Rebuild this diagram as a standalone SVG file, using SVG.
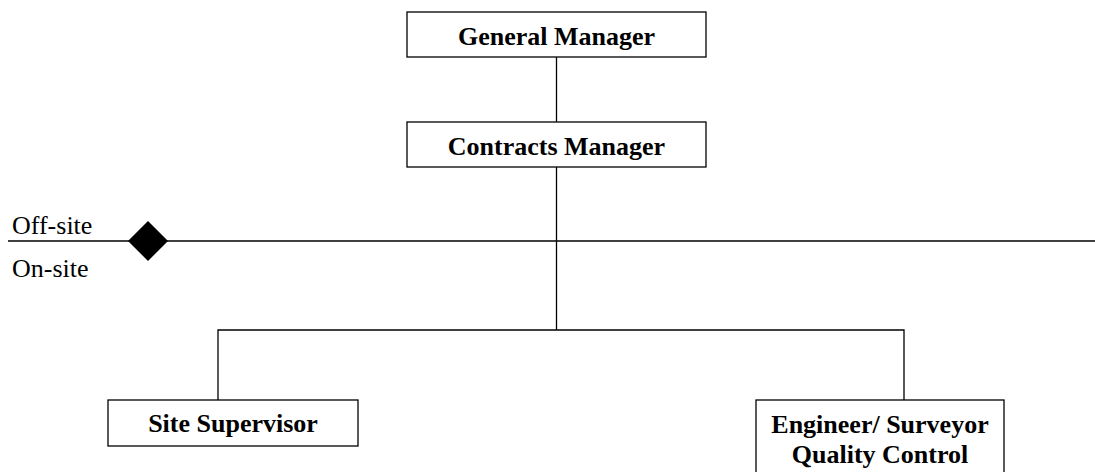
<svg xmlns="http://www.w3.org/2000/svg" width="1095" height="472" viewBox="0 0 1095 472">
<style>
.box{fill:#fff;stroke:#000;stroke-width:1.3}
.ln{fill:none;stroke:#000;stroke-width:1.3}
.t{font-family:"Liberation Serif","Times New Roman",serif;font-size:26px;font-weight:bold;text-anchor:middle;fill:#000}
.l{font-family:"Liberation Serif","Times New Roman",serif;font-size:26px;fill:#000}
</style>
<rect width="1095" height="472" fill="#fff"/>
<g id="connectors">
<path class="ln" d="M556.5 57V122"/>
<path class="ln" d="M556.5 167V330"/>
<path class="ln" d="M218 400V330H904V400"/>
<path class="ln" d="M8 241H1095"/>
</g>
<g id="divider">
<polygon points="148,221 168,241 148,261 128,241" fill="#000"/>
<text class="l" x="12" y="234">Off-site</text>
<text class="l" x="12" y="277">On-site</text>
</g>
<g id="general-manager">
<rect class="box" x="407" y="12" width="299" height="45"/>
<text class="t" x="556.5" y="45">General Manager</text>
</g>
<g id="contracts-manager">
<rect class="box" x="407" y="122" width="299" height="45"/>
<text class="t" x="556.5" y="155">Contracts Manager</text>
</g>
<g id="site-supervisor">
<rect class="box" x="108" y="400" width="250" height="46"/>
<text class="t" x="233" y="432">Site Supervisor</text>
</g>
<g id="engineer">
<rect class="box" x="756" y="400" width="248" height="90"/>
<text class="t" x="880" y="433">Engineer/ Surveyor</text>
<text class="t" x="880" y="463">Quality Control</text>
</g>
</svg>
